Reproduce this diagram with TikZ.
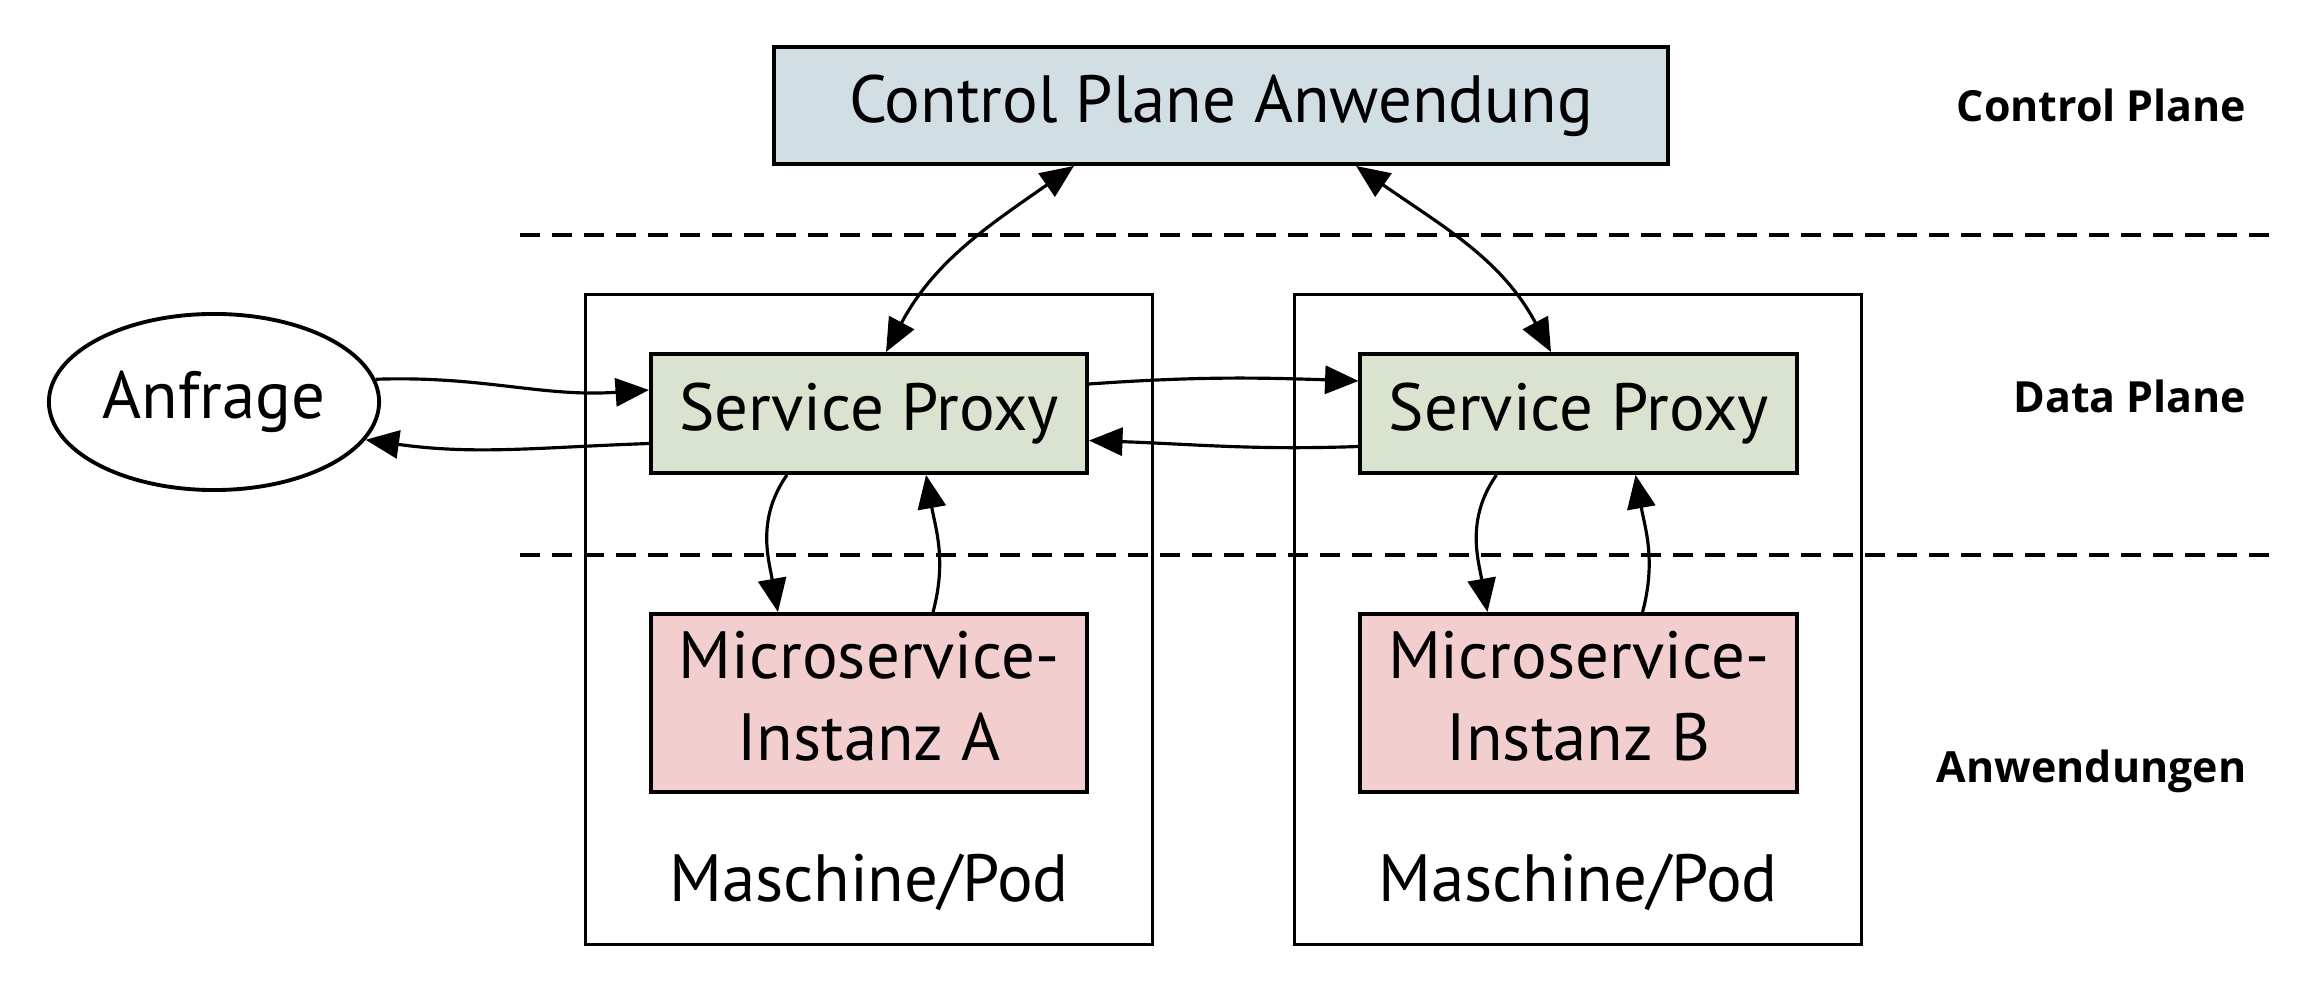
\documentclass[tikz,border=0pt]{standalone}
\usepackage{fontspec}
\setmainfont{PT Sans}
\newfontfamily\layerfont{Open Sans}
\usetikzlibrary{arrows.meta,shapes.geometric}

\definecolor{ctrlblue}{HTML}{D1DEE4}
\definecolor{proxygreen}{HTML}{DAE3D0}
\definecolor{svcred}{HTML}{F2CECF}

\begin{document}
\begin{tikzpicture}[x=0.01cm,y=-0.01cm,
  box/.style={draw,line width=1.1pt,inner sep=0pt,align=center,
    font=\fontsize{19}{23.5}\selectfont},
  podbox/.style={draw,line width=0.9pt,inner sep=0pt},
  layer/.style={anchor=east,inner sep=0pt,font=\layerfont\fontsize{12.2}{15}\selectfont\bfseries},
  flow/.style={line width=0.9pt,-{Triangle[length=9.5pt,width=8pt]}},
  both/.style={line width=0.9pt,{Triangle[length=9.5pt,width=8pt]}-{Triangle[length=9.5pt,width=8pt]}},
  sep/.style={line width=1.1pt,dash pattern=on 0.2cm off 0.12cm}]
\useasboundingbox (0,0) rectangle (2316,995);

% layers
\draw[sep] (520,235) -- (2272,235);
\draw[sep] (520,555) -- (2272,555);
\node[layer] (lcp) at (2247,105) {Control Plane};
\node[layer] (ldp) at (2247,396) {Data Plane};
\node[layer] (lapp) at (2247,771) {Anwendungen};

% machines
\node[podbox,minimum width=5.66cm,minimum height=6.49cm] (podA) at (869,619.5) {};
\node[podbox,minimum width=5.66cm,minimum height=6.49cm] (podB) at (1578,619.5) {};
\node[font=\fontsize{19}{23}\selectfont] (podAlbl) at (869,882) {Maschine/Pod};
\node[font=\fontsize{19}{23}\selectfont] (podBlbl) at (1578,882) {Maschine/Pod};

% nodes
\node[box,fill=ctrlblue,minimum width=8.94cm,minimum height=1.17cm] (ctrl) at (1221,105.5) {Control Plane Anwendung};
\node[box,fill=proxygreen,minimum width=4.36cm,minimum height=1.19cm] (proxyA) at (869,413.5) {Service Proxy};
\node[box,fill=proxygreen,minimum width=4.36cm,minimum height=1.19cm] (proxyB) at (1578.5,413.5) {Service Proxy};
\node[box,fill=svcred,text depth=4pt,minimum width=4.36cm,minimum height=1.78cm] (svcA) at (869,703) {Microservice-\\Instanz A};
\node[box,fill=svcred,text depth=4pt,minimum width=4.36cm,minimum height=1.78cm] (svcB) at (1578.5,703) {Microservice-\\Instanz B};
\node[draw,ellipse,line width=1.1pt,inner sep=0pt,minimum width=3.3cm,minimum height=1.76cm,
  font=\fontsize{19}{23}\selectfont] (req) at (214,402) {Anfrage};

% connectors
\draw[flow] (req.8) to[out=2,in=184] ([yshift=0.235cm]proxyA.west);
\draw[flow] ([yshift=-0.3cm]proxyA.west) to[out=182,in=-8] (req.-14);
\draw[flow] ([yshift=0.295cm]proxyA.east) to[out=4,in=178] ([yshift=0.325cm]proxyB.west);
\draw[flow] ([yshift=-0.33cm]proxyB.west) to[out=182,in=-2] ([yshift=-0.27cm]proxyA.east);
\draw[both] ([xshift=-1.47cm]ctrl.south) to[out=215,in=62] ([xshift=0.17cm]proxyA.north);
\draw[both] ([xshift=1.35cm]ctrl.south) to[out=-35,in=118] ([xshift=-0.275cm]proxyB.north);
\draw[flow] ([xshift=-0.82cm]proxyA.south) to[out=235,in=100] ([xshift=-0.91cm]svcA.north);
\draw[flow] ([xshift=0.64cm]svcA.north) to[out=75,in=-80] ([xshift=0.57cm]proxyA.south);
\draw[flow] ([xshift=-0.82cm]proxyB.south) to[out=235,in=100] ([xshift=-0.91cm]svcB.north);
\draw[flow] ([xshift=0.64cm]svcB.north) to[out=75,in=-80] ([xshift=0.57cm]proxyB.south);
\end{tikzpicture}
\end{document}
